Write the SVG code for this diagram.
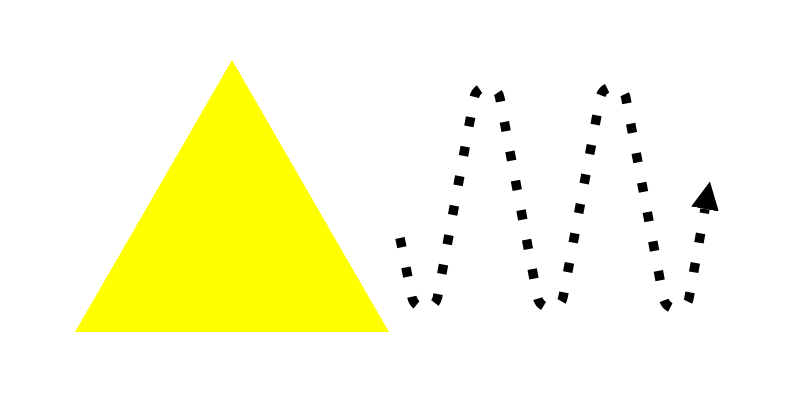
<svg xmlns="http://www.w3.org/2000/svg" width="800" height="400" viewBox="0 0 800 400">
  <style>
    .shape { fill: #ffff00; stroke: none; }
    .wave { fill: none; stroke: #000; stroke-width: 9.5; stroke-dasharray: 9.5 20.5; }
  </style>
  <defs>
    <marker id="arrow" markerUnits="userSpaceOnUse" markerWidth="28" markerHeight="28" viewBox="0 0 28 28" refX="0" refY="14" orient="auto">
      <path d="M0,0 L28,14 L0,28 z" fill="#000"/>
    </marker>
  </defs>
  <rect width="800" height="400" fill="#fff"/>
  <g id="triangle">
    <polygon class="shape" points="232,60 389,332 75,332"/>
  </g>
  <g id="connectors">
    <path class="wave" marker-end="url(#arrow)" d="M400,238 L412,297.4 A13,13 0 0 0 437.5,297.4 L474.2,97.6 A13,13 0 0 1 499.8,97.6 L537.5,297.4 A13,13 0 0 0 563,297.4 L600.2,97.6 A13,13 0 0 1 625.8,97.6 L663.5,298.4 A13,13 0 0 0 689,298.4 L705,209"/>
  </g>
</svg>
